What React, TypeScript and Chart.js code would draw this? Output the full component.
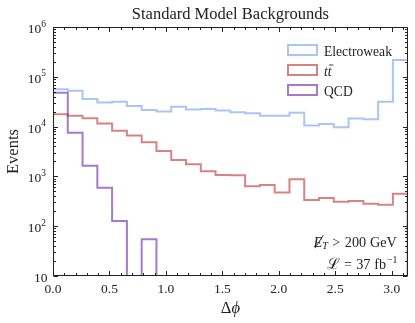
import React, { useEffect, useRef } from 'react';
import { Chart, registerables } from 'chart.js';

Chart.register(...registerables);

// ---------- data ----------
const N_BINS = 24;
const PHI_MAX = Math.PI;
const electroweak = [56000, 52500, 36000, 30500, 31500, 26000, 21500, 20000, 25000, 22000, 22500, 21000, 19500, 18500, 16500, 16500, 19000, 10500, 11300, 9700, 14500, 14000, 31500, 217000];
const ttbar = [17700, 16600, 14700, 11600, 8300, 6600, 4830, 3230, 2130, 1750, 1265, 1067, 1050, 632, 672, 475, 875, 336, 368, 310, 319, 283, 270, 450];
const qcd = [48000, 7550, 1640, 593, 127, 0, 55, 0, 0, 0, 0, 0, 0, 0, 0, 0, 0, 0, 0, 0, 0, 0, 0, 0];
const seriesNames = ['Electroweak', 'tt', 'QCD'];
const xTickValues = [0, 0.5, 1.0, 1.5, 2.0, 2.5, 3.0];
const xTickLabels = ['0.0', '0.5', '1.0', '1.5', '2.0', '2.5', '3.0'];
const yTickExponents = [1, 2, 3, 4, 5, 6];
const titleText = 'Standard Model Backgrounds';
const xLabelText = ['Δ', 'ϕ'];
const yLabelText = 'Events';
const metPieces = ['E', 'T', '>', '200', 'GeV'];
const lumiPieces = ['ℒ', '=', '37', 'fb', '−1'];

const COLORS = ['rgba(100,150,237,0.55)', 'rgba(190,40,40,0.58)', 'rgba(110,40,170,0.62)'];
const SERIF = '"Liberation Serif", "Times New Roman", serif';
const INK = '#222';
const FLOOR = 0.01;

function toSteps(values: number[]) {
  const pts: { x: number; y: number }[] = [{ x: 0, y: FLOOR }];
  values.forEach((v, i) => pts.push({ x: (i * PHI_MAX) / N_BINS, y: v > 0 ? v : FLOOR }));
  pts.push({ x: PHI_MAX, y: FLOOR });
  return pts;
}

type Piece = { text: string; font: string; dy: number };

// right-aligned run of pieces with fixed gaps
function layoutLine(ctx: CanvasRenderingContext2D, pieces: Piece[], gaps: number[], right: number, base: number) {
  const widths = pieces.map((p) => { ctx.font = p.font; return ctx.measureText(p.text).width; });
  const total = widths.reduce((s, w) => s + w, 0) + gaps.reduce((s, g) => s + g, 0);
  const xs: number[] = [];
  let x = right - total;
  pieces.forEach((p, i) => {
    xs.push(x);
    ctx.font = p.font;
    ctx.fillText(p.text, x, base + p.dy);
    x += widths[i] + (i < gaps.length ? gaps[i] : 0);
  });
  return { xs, widths };
}

const decorPlugin = {
  id: 'decor',
  afterDraw(chart: any) {
    const { ctx, chartArea: a, scales } = chart;
    const xs = scales.x;
    const ys = scales.y;
    ctx.save();
    const L = Math.round(a.left) + 0.5;
    const R = Math.round(a.right) - 0.5;
    const T = Math.round(a.top) + 0.5;
    const B = Math.round(a.bottom) - 0.5;

    // frame
    ctx.strokeStyle = INK;
    ctx.lineWidth = 1;
    ctx.strokeRect(L, T, R - L, B - T);

    // ticks (inward, all four sides)
    const MAJ = 4.5, MIN = 2.5;
    ctx.beginPath();
    for (let k = 0; k <= 31; k++) {
      const v = k / 10;
      const px = Math.round(xs.getPixelForValue(v)) + 0.5;
      const len = k % 5 === 0 ? MAJ : MIN;
      ctx.moveTo(px, B); ctx.lineTo(px, B - len);
      ctx.moveTo(px, T); ctx.lineTo(px, T + len);
    }
    for (let e = 1; e <= 6; e++) {
      for (let m = 1; m <= 9; m++) {
        if (e === 6 && m > 1) break;
        const v = m * Math.pow(10, e);
        const py = Math.round(ys.getPixelForValue(v)) + 0.5;
        const len = m === 1 ? MAJ : MIN;
        ctx.moveTo(L, py); ctx.lineTo(L + len, py);
        ctx.moveTo(R, py); ctx.lineTo(R - len, py);
      }
    }
    ctx.stroke();

    ctx.fillStyle = INK;
    ctx.textBaseline = 'alphabetic';

    // x tick labels
    ctx.font = `13.5px ${SERIF}`;
    ctx.textAlign = 'center';
    xTickValues.forEach((v, i) => {
      ctx.fillText(xTickLabels[i], xs.getPixelForValue(v), a.bottom + 16.7);
    });

    // y tick labels
    yTickExponents.forEach((e) => {
      const py = ys.getPixelForValue(Math.pow(10, e));
      ctx.textAlign = 'right';
      if (e === 1) {
        ctx.font = `13.5px ${SERIF}`;
        ctx.fillText('10', a.left - 5.5, py + 6);
      } else {
        ctx.font = `9.5px ${SERIF}`;
        const sup = String(e);
        const sw = ctx.measureText(sup).width;
        const right = a.left - 7;
        ctx.fillText(sup, right, py - 0.5);
        ctx.font = `13.5px ${SERIF}`;
        ctx.fillText('10', right - sw, py + 6);
      }
    });

    // title
    ctx.font = `16.5px ${SERIF}`;
    ctx.textAlign = 'center';
    ctx.fillText(titleText, (a.left + a.right) / 2, 19);

    // y label
    ctx.save();
    ctx.translate(18.3, (a.top + a.bottom) / 2);
    ctx.rotate(-Math.PI / 2);
    ctx.textAlign = 'center';
    ctx.fillText(yLabelText, 0, 0);
    ctx.restore();

    // x label
    ctx.textAlign = 'left';
    ctx.font = `16.5px ${SERIF}`;
    const wD = ctx.measureText(xLabelText[0]).width;
    ctx.font = `italic 16.5px ${SERIF}`;
    const wP = ctx.measureText(xLabelText[1]).width;
    const x0 = (a.left + a.right) / 2 - (wD + wP) / 2;
    ctx.font = `16.5px ${SERIF}`;
    ctx.fillText(xLabelText[0], x0, 312.5);
    ctx.font = `italic 16.5px ${SERIF}`;
    ctx.fillText(xLabelText[1], x0 + wD, 312.5);

    // legend
    const legX = 288, legW = 29, legH = 10, textX = 324;
    const rows = [50, 70, 90];
    rows.forEach((cy, i) => {
      ctx.strokeStyle = COLORS[i];
      ctx.lineWidth = 2;
      ctx.strokeRect(legX, cy - legH / 2, legW, legH);
      ctx.fillStyle = INK;
      const base = cy + 5.7;
      ctx.textAlign = 'left';
      if (i === 1) {
        ctx.font = `italic 13.6px ${SERIF}`;
        const w1 = ctx.measureText('t').width;
        ctx.fillText(seriesNames[1], textX, base);
        ctx.strokeStyle = INK;
        ctx.lineWidth = 0.9;
        ctx.beginPath();
        ctx.moveTo(textX + w1 + 1.2, base - 10.7);
        ctx.lineTo(textX + 2 * w1 + 1.8, base - 10.7);
        ctx.stroke();
      } else {
        ctx.font = `13.6px ${SERIF}`;
        ctx.fillText(seriesNames[i], textX, base);
      }
    });

    // annotation line 1: missing ET > 200 GeV
    ctx.textAlign = 'left';
    ctx.fillStyle = INK;
    const base1 = 246.7;
    const p1: Piece[] = [
      { text: metPieces[0], font: `italic 14.5px ${SERIF}`, dy: 0 },
      { text: metPieces[1], font: `italic 10px ${SERIF}`, dy: 2.5 },
      { text: metPieces[2], font: `14.2px ${SERIF}`, dy: 0 },
      { text: metPieces[3], font: `14.2px ${SERIF}`, dy: 0 },
      { text: metPieces[4], font: `14.2px ${SERIF}`, dy: 0 },
    ];
    const l1 = layoutLine(ctx, p1, [0, 4.5, 4.5, 3.8], 396.7, base1);
    ctx.strokeStyle = INK;
    ctx.lineWidth = 0.9;
    ctx.beginPath();
    ctx.moveTo(l1.xs[0] + 1.5, base1 + 1.5);
    ctx.lineTo(l1.xs[0] + l1.widths[0] + 1, base1 - 11.5);
    ctx.stroke();

    // annotation line 2: luminosity
    const base2 = 269;
    const p2: Piece[] = [
      { text: lumiPieces[0], font: `15.5px ${SERIF}`, dy: 0 },
      { text: lumiPieces[1], font: `14.2px ${SERIF}`, dy: 0 },
      { text: lumiPieces[2], font: `14.2px ${SERIF}`, dy: 0 },
      { text: lumiPieces[3], font: `14.2px ${SERIF}`, dy: 0 },
      { text: lumiPieces[4], font: `9.8px ${SERIF}`, dy: -6 },
    ];
    layoutLine(ctx, p2, [4.2, 4.2, 3.8, 0.8], 397.3, base2);

    ctx.restore();
  },
};

export default function App() {
  const canvasRef = useRef<HTMLCanvasElement | null>(null);

  useEffect(() => {
    const canvas = canvasRef.current;
    if (!canvas) return;
    const allSeries = [electroweak, ttbar, qcd];
    const chart = new Chart(canvas, {
      type: 'line',
      data: {
        datasets: allSeries.map((vals, i) => ({
          label: seriesNames[i],
          data: toSteps(vals),
          borderColor: COLORS[i],
          backgroundColor: COLORS[i],
          borderWidth: 2,
          stepped: 'before' as const,
          pointRadius: 0,
          fill: false,
          tension: 0,
          borderJoinStyle: 'miter' as const,
          order: 3 - i,
        })),
      },
      options: {
        animation: false,
        responsive: false,
        devicePixelRatio: 1,
        layout: { padding: { left: 53, right: 7.3, top: 27, bottom: 47 } },
        plugins: { legend: { display: false }, tooltip: { enabled: false }, title: { display: false } },
        scales: {
          x: { type: 'linear', min: 0, max: PHI_MAX, display: false },
          y: { type: 'logarithmic', min: 10, max: 1e6, display: false },
        },
      },
      plugins: [decorPlugin],
    } as any);
    return () => chart.destroy();
  }, []);

  return (
    <div style={{ position: 'fixed', left: 0, top: 0, width: 415, height: 323, background: '#fff' }}>
      <canvas ref={canvasRef} width={415} height={323} style={{ display: 'block', width: 415, height: 323 }} />
    </div>
  );
}
